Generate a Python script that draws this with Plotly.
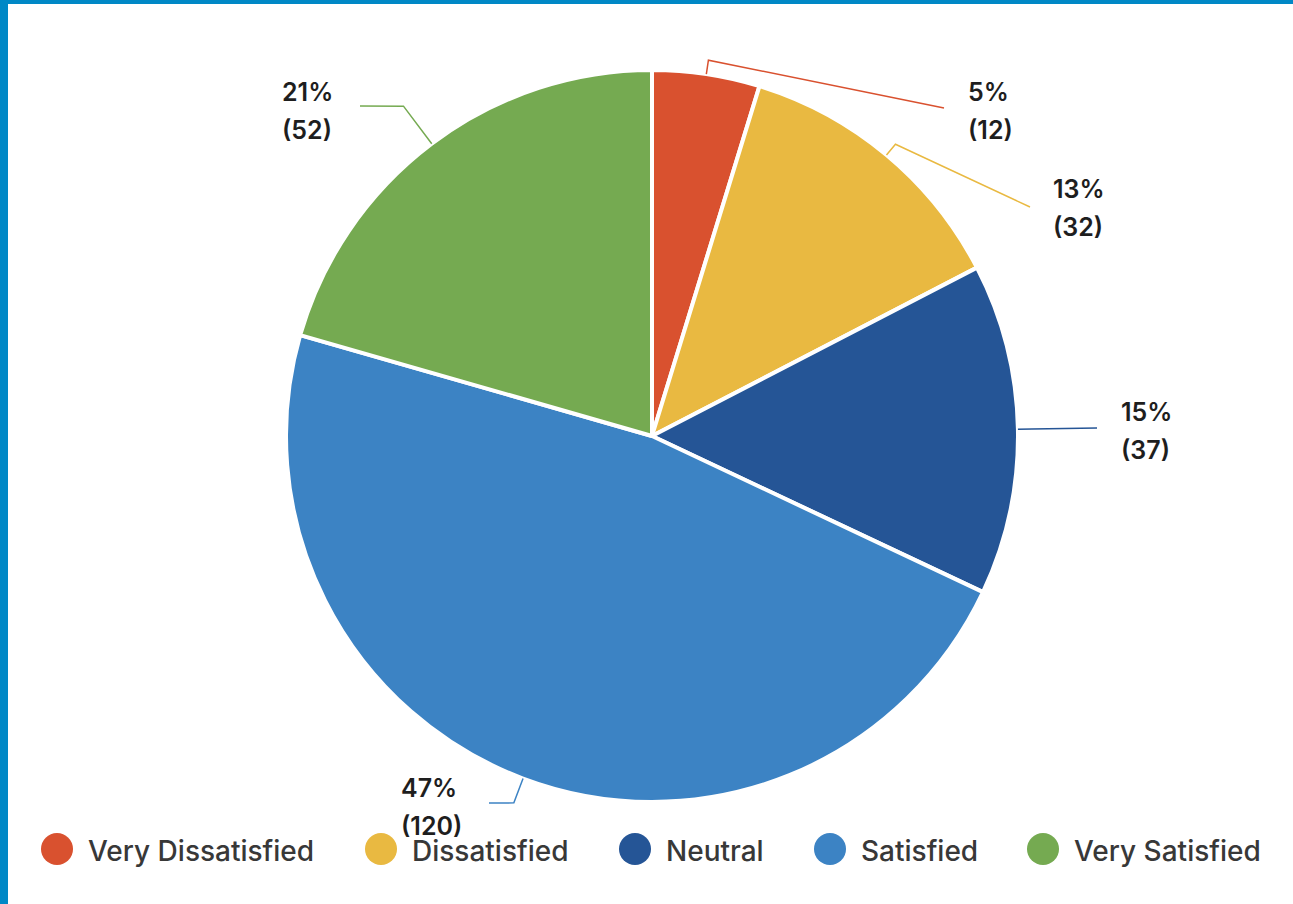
import math
import plotly.graph_objects as go

# Survey responses
categories = ["Very Dissatisfied", "Dissatisfied", "Neutral", "Satisfied", "Very Satisfied"]
counts = [12, 32, 37, 120, 52]
colors = ["#D9512F", "#E9B941", "#255596", "#3C83C4", "#75AA51"]

W, H = 1293, 904
FONT = "Inter"

# Pie placement in pixels (centre and radius)
CX, CY, R = 652, 436, 366

# Label placement: left edge of text and centre of first line; leader end point; elbow radius
label_pos = [(966, 92), (1051, 189), (1119, 412), (399, 788), (280, 92)]
leader_end = [(944, 108), (1030, 207), (1097, 428), (489, 803), (360, 106)]
elbow_r = [380, 380, 380, 392, 413]

# Legend placement
legend_cx = [57, 381, 635, 830, 1043]
legend_cy = 849
legend_r = 16


def px(x):
    return x / W


def py(y):
    return 1 - y / H


fig = go.Figure()
fig.add_trace(go.Pie(
    labels=categories,
    values=counts,
    sort=False,
    direction="clockwise",
    rotation=0,
    textinfo="none",
    marker=dict(colors=colors, line=dict(color="white", width=4)),
    domain=dict(x=[px(CX - R), px(CX + R)], y=[py(CY + R), py(CY - R)]),
    showlegend=False,
    hoverinfo="label+value+percent",
))

shapes = []
annotations = []
total = sum(counts)
cum = 0
for i, (cat, v) in enumerate(zip(categories, counts)):
    mid = (cum + v / 2) / total * 2 * math.pi
    cum += v
    sx, sy = CX + R * math.sin(mid), CY - R * math.cos(mid)
    ex, ey = CX + elbow_r[i] * math.sin(mid), CY - elbow_r[i] * math.cos(mid)
    lx, ly = leader_end[i]
    path = f"M {px(sx)},{py(sy)} L {px(ex)},{py(ey)} L {px(lx)},{py(ly)}"
    shapes.append(dict(type="path", xref="paper", yref="paper", path=path,
                       line=dict(color=colors[i], width=1.5)))
    pct = round(v / total * 100)
    tx, ty = label_pos[i]
    for k, txt in enumerate([f"{pct}%", f"({v})"]):
        annotations.append(dict(
            x=px(tx), y=py(ty + 38 * k), xref="paper", yref="paper",
            xanchor="left", yanchor="middle", showarrow=False, text=txt,
            font=dict(family=FONT, size=25, color="#1e1e1e", weight=600),
        ))

    # legend entry
    cx = legend_cx[i]
    shapes.append(dict(type="circle", xref="paper", yref="paper",
                       x0=px(cx - legend_r), x1=px(cx + legend_r),
                       y0=py(legend_cy + legend_r), y1=py(legend_cy - legend_r),
                       fillcolor=colors[i], line=dict(width=0)))
    annotations.append(dict(
        x=px(cx + 29), y=py(legend_cy + 2), xref="paper", yref="paper",
        xanchor="left", yanchor="middle", showarrow=False, text=cat,
        font=dict(family=FONT, size=28, color="#383838", weight=500),
    ))

# Frame accent along the top and left edges
frame = "#0088C6"
shapes.append(dict(type="rect", xref="paper", yref="paper", x0=0, x1=1,
                   y0=py(4), y1=1, fillcolor=frame, line=dict(width=0), layer="above"))
shapes.append(dict(type="rect", xref="paper", yref="paper", x0=0, x1=px(8),
                   y0=0, y1=1, fillcolor=frame, line=dict(width=0), layer="above"))

fig.update_layout(
    width=W, height=H,
    margin=dict(l=0, r=0, t=0, b=0),
    paper_bgcolor="white",
    plot_bgcolor="white",
    shapes=shapes,
    annotations=annotations,
)

fig.write_html("out.html")
